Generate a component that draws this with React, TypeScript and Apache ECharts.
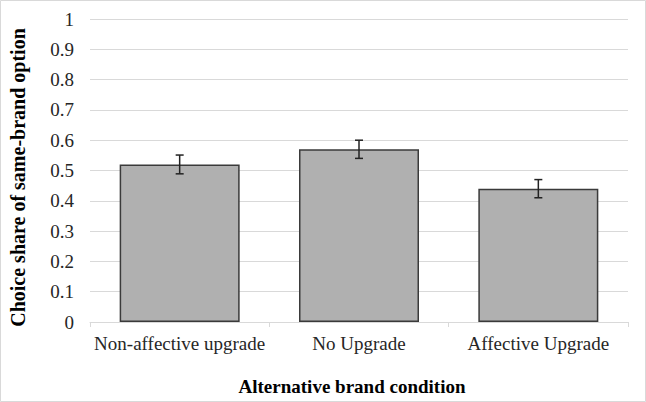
import React, { useEffect, useRef } from "react";
import * as echarts from "echarts";

const categories = ["Non-affective upgrade", "No Upgrade", "Affective Upgrade"];
const shares = [0.52, 0.57, 0.44];
const errors = [0.031, 0.03, 0.03];
const yTicks = [0, 0.1, 0.2, 0.3, 0.4, 0.5, 0.6, 0.7, 0.8, 0.9, 1];

const FONT = "Liberation Serif";

export default function App() {
  const ref = useRef<HTMLDivElement>(null);
  useEffect(() => {
    if (!ref.current) return;
    const chart = echarts.init(ref.current, null, { renderer: "svg" });
    chart.setOption({
      animation: false,
      backgroundColor: "#ffffff",
      textStyle: { fontFamily: FONT },
      grid: { left: 87, right: 18, top: 19, bottom: 80 },
      graphic: [
        {
          type: "rect",
          shape: { x: 0.5, y: 0.5, width: 645, height: 401 },
          style: { fill: "none", stroke: "#d9d9d9", lineWidth: 1 },
          silent: true,
        },
      ],
      xAxis: {
        type: "category",
        data: categories,
        name: "Alternative brand condition",
        nameLocation: "middle",
        nameGap: 55,
        nameTextStyle: {
          fontFamily: FONT,
          fontSize: 19,
          fontWeight: "bold",
          color: "#000",
          padding: [0, 14, 0, 0],
        },
        axisLine: { show: true, lineStyle: { color: "#d9d9d9", width: 1 } },
        axisTick: { show: true, alignWithLabel: false, length: 5, lineStyle: { color: "#d9d9d9" } },
        axisLabel: { fontFamily: FONT, fontSize: 19, color: "#262626", margin: 12, interval: 0 },
      },
      yAxis: {
        type: "value",
        min: 0,
        max: 1,
        interval: 0.1,
        name: "Choice share of same-brand option",
        nameLocation: "middle",
        nameGap: 62,
        nameTextStyle: {
          fontFamily: FONT,
          fontSize: 20,
          fontWeight: "bold",
          color: "#000",
          padding: [0, 14, 0, 0],
        },
        axisLine: { show: false },
        axisTick: { show: false },
        splitLine: { lineStyle: { color: "#d9d9d9", width: 1 } },
        axisLabel: {
          fontFamily: FONT,
          fontSize: 19,
          color: "#262626",
          margin: 16,
          formatter: (v: number) => {
            const t = yTicks.find((x) => Math.abs(x - v) < 1e-9);
            return t === undefined ? "" : String(Math.round(t * 10) / 10);
          },
        },
      },
      series: [
        {
          type: "bar",
          data: shares,
          barWidth: 120,
          itemStyle: { color: "#b0b0b0", borderColor: "#3a3a3a", borderWidth: 1.5 },
        },
        {
          type: "custom",
          data: shares.map((v, i) => [i, v - errors[i], v + errors[i]]),
          renderItem: (params: any, api: any) => {
            const i = api.value(0);
            const lo = api.coord([i, api.value(1)]);
            const hi = api.coord([i, api.value(2)]);
            const x = lo[0];
            const hw = 4;
            const style = { stroke: "#222", lineWidth: 1.5 };
            return {
              type: "group",
              children: [
                { type: "line", shape: { x1: x, y1: lo[1], x2: x, y2: hi[1] }, style },
                { type: "line", shape: { x1: x - hw, y1: lo[1], x2: x + hw, y2: lo[1] }, style },
                { type: "line", shape: { x1: x - hw, y1: hi[1], x2: x + hw, y2: hi[1] }, style },
              ],
            };
          },
          z: 10,
        },
      ],
    });
    return () => chart.dispose();
  }, []);
  return (
    <div
      ref={ref}
      style={{ position: "fixed", left: 0, top: 0, width: 646, height: 402 }}
    />
  );
}
